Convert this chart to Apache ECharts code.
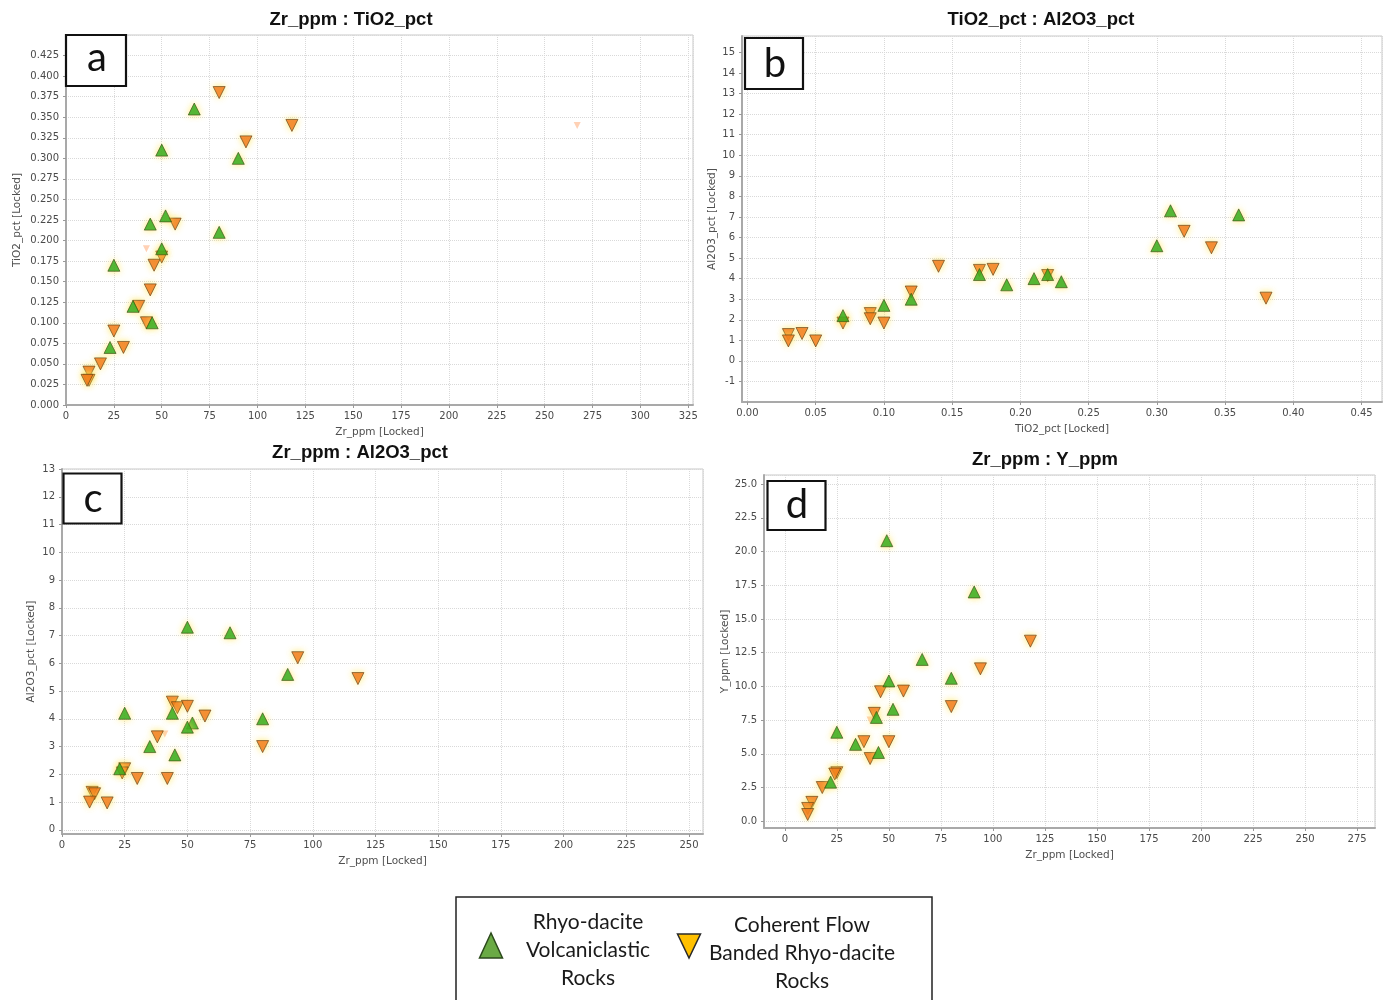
<!DOCTYPE html>
<html>
<head>
<meta charset="utf-8">
<script src="https://cdn.jsdelivr.net/npm/echarts@6/dist/echarts.min.js"></script>
<style>
  html, body { margin: 0; padding: 0; background: #ffffff; }
  #chart { width: 1390px; height: 1000px; }
</style>
</head>
<body>
<div id="chart"></div>
<script>
// ---------------- DATA ----------------
// Legend / series names
const seriesNames = ['Rhyo-dacite Volcaniclastic Rocks', 'Coherent Flow Banded Rhyo-dacite Rocks'];

// Panel a : Zr_ppm (x) vs TiO2_pct (y)
const zrTio2Volc = [[67,0.36],[50,0.31],[90,0.30],[52,0.23],[44,0.22],[80,0.21],[50,0.19],[25,0.17],[35,0.12],[45,0.10],[23,0.07]];
const zrTio2Coh  = [[80,0.38],[118,0.34],[94,0.32],[57,0.22],[50,0.18],[46,0.17],[44,0.14],[38,0.12],[42,0.10],[25,0.09],[30,0.07],[18,0.05],[12,0.04],[12,0.03],[11,0.03]];
const zrTio2Faint = [[42,0.19],[267,0.34]];

// Panel b : TiO2_pct (x) vs Al2O3_pct (y)
const tio2Al2o3Volc = [[0.07,2.2],[0.10,2.7],[0.12,3.0],[0.17,4.2],[0.19,3.7],[0.21,4.0],[0.22,4.2],[0.23,3.85],[0.30,5.6],[0.31,7.3],[0.36,7.1]];
const tio2Al2o3Coh  = [[0.03,1.28],[0.03,0.97],[0.04,1.33],[0.05,0.97],[0.07,1.84],[0.09,2.3],[0.09,2.05],[0.10,1.84],[0.12,3.35],[0.14,4.6],[0.17,4.4],[0.18,4.45],[0.22,4.15],[0.32,6.3],[0.34,5.5],[0.38,3.05]];

// Panel c : Zr_ppm (x) vs Al2O3_pct (y)
const zrAl2o3Volc = [[50,7.3],[67,7.1],[90,5.6],[25,4.2],[44,4.2],[80,4.0],[52,3.85],[50,3.7],[35,3.0],[45,2.7],[23,2.2]];
const zrAl2o3Coh  = [[94,6.2],[118,5.45],[44,4.6],[46,4.4],[50,4.45],[57,4.1],[38,3.35],[80,3.0],[25,2.2],[24,2.05],[30,1.85],[42,1.85],[12,1.35],[13,1.3],[11,1.0],[18,0.97]];
const zrAl2o3Faint = [[41,3.45]];

// Panel d : Zr_ppm (x) vs Y_ppm (y)
const zrYVolc = [[49,20.8],[91,17.0],[66,12.0],[80,10.6],[50,10.4],[52,8.3],[44,7.7],[25,6.6],[34,5.7],[45,5.1],[22,2.9]];
const zrYCoh  = [[118,13.35],[94,11.3],[80,8.5],[46,9.6],[57,9.65],[43,8.0],[38,5.9],[50,5.9],[41,4.65],[25,3.6],[24,3.5],[18,2.5],[13,1.4],[11,0.95],[11,0.5]];
const zrYFaint = [[41,7.5]];

// Titles, axis names, panel letters
const panelTitles = ['Zr_ppm : TiO2_pct', 'TiO2_pct : Al2O3_pct', 'Zr_ppm : Al2O3_pct', 'Zr_ppm : Y_ppm'];
const xNames = ['Zr_ppm [Locked]', 'TiO2_pct [Locked]', 'Zr_ppm [Locked]', 'Zr_ppm [Locked]'];
const yNames = ['TiO2_pct [Locked]', 'Al2O3_pct [Locked]', 'Al2O3_pct [Locked]', 'Y_ppm [Locked]'];
const panelLetters = ['a', 'b', 'c', 'd'];
const legendLines = [['Rhyo-dacite', 'Volcaniclastic', 'Rocks'], ['Coherent Flow', 'Banded Rhyo-dacite', 'Rocks']];

// ---------------- STYLE / LAYOUT ----------------
const TICK_FONT = 'DejaVu Sans';
const grids = [
  { left: 66,  top: 35,  width: 627, height: 370 },
  { left: 742, top: 36,  width: 640, height: 366 },
  { left: 62,  top: 469, width: 641, height: 365 },
  { left: 764, top: 475, width: 611, height: 353 }
];
const xRanges = [
  { min: 0, max: 327.5, step: 25, dec: 0, hideMin: false },
  { min: -0.004, max: 0.465, step: 0.05, dec: 2, hideMin: true },
  { min: 0, max: 255.6, step: 25, dec: 0, hideMin: false },
  { min: -10, max: 283.6, step: 25, dec: 0, hideMin: true }
];
const yRanges = [
  { min: 0, max: 0.45, step: 0.025, dec: 3, hideMin: false, hideMax: true },
  { min: -2, max: 15.8, step: 1, dec: 0, hideMin: true, hideMax: true },
  { min: -0.15, max: 13, step: 1, dec: 0, hideMin: true, hideMax: false },
  { min: -0.5, max: 25.67, step: 2.5, dec: 1, hideMin: true, hideMax: true }
];
const xNameGaps = [22, 22, 22, 22];
const yNameGaps = [43, 24, 25, 33];

function axisCommon() {
  return {
    type: 'value',
    axisLine: { show: true, onZero: false, lineStyle: { color: '#a9a9a9', width: 2 } },
    axisTick: { show: true, length: 3, lineStyle: { color: '#999' } },
    splitLine: { show: true, lineStyle: { color: '#d9d9d9', type: 'dotted', width: 1 } },
    nameLocation: 'middle',
    nameTextStyle: { fontFamily: TICK_FONT, fontSize: 10.5, color: '#505050' }
  };
}

const xAxes = xRanges.map((r, i) => Object.assign(axisCommon(), {
  gridIndex: i, min: r.min, max: r.max, minInterval: r.step, maxInterval: r.step,
  name: xNames[i], nameGap: xNameGaps[i],
  axisLabel: { fontFamily: TICK_FONT, fontSize: 10, color: '#4a4a4a', margin: 6,
    showMinLabel: !r.hideMin, showMaxLabel: false,
    formatter: v => Number(v).toFixed(r.dec) }
}));
const yAxes = yRanges.map((r, i) => Object.assign(axisCommon(), {
  gridIndex: i, min: r.min, max: r.max, minInterval: r.step, maxInterval: r.step,
  name: yNames[i], nameGap: yNameGaps[i], nameRotate: 90,
  axisLabel: { fontFamily: TICK_FONT, fontSize: 10, color: '#4a4a4a', margin: 7,
    showMinLabel: !r.hideMin, showMaxLabel: !r.hideMax,
    formatter: v => Number(v).toFixed(r.dec) }
}));

const volcStyle = { color: '#12a012', borderColor: '#3f4a10', borderWidth: 0.8,
  shadowBlur: 6, shadowColor: 'rgba(255,230,80,0.95)' };
const cohStyle = { color: '#f06a12', borderColor: '#5a3c10', borderWidth: 0.8,
  shadowBlur: 6, shadowColor: 'rgba(255,230,80,0.95)' };
const faintStyle = { color: '#ffc6a2' };

const panelData = [
  [zrTio2Volc, zrTio2Coh, zrTio2Faint],
  [tio2Al2o3Volc, tio2Al2o3Coh, []],
  [zrAl2o3Volc, zrAl2o3Coh, zrAl2o3Faint],
  [zrYVolc, zrYCoh, zrYFaint]
];

const series = [];
panelData.forEach((d, i) => {
  if (d[2].length) series.push({ type: 'scatter', name: 'Filtered samples', xAxisIndex: i, yAxisIndex: i,
    data: d[2], symbol: 'triangle', symbolRotate: 180, symbolSize: 7, itemStyle: faintStyle, silent: true });
  series.push({ type: 'scatter', name: seriesNames[1], xAxisIndex: i, yAxisIndex: i,
    data: d[1], symbol: 'triangle', symbolRotate: 180, symbolSize: 12, itemStyle: cohStyle });
  series.push({ type: 'scatter', name: seriesNames[0], xAxisIndex: i, yAxisIndex: i,
    data: d[0], symbol: 'triangle', symbolSize: 12, itemStyle: volcStyle });
});

const titlePos = [[351, 20], [1041, 20], [360, 453], [1045, 460]];
const titles = panelTitles.map((t, i) => ({
  text: t, left: titlePos[i][0], top: titlePos[i][1], padding: 0,
  textAlign: 'center', textVerticalAlign: 'middle',
  textStyle: { fontFamily: 'Liberation Sans', fontWeight: 'bold', fontSize: 18.5, color: '#111' }
}));

// panel letter boxes
const letterBoxes = [
  { x: 66, y: 35, w: 60, h: 51, tx: 97, ty: 58 },
  { x: 745, y: 38, w: 58, h: 51, tx: 775, ty: 64 },
  { x: 63.5, y: 473.5, w: 58, h: 50, tx: 93, ty: 499 },
  { x: 767.5, y: 481, w: 58, h: 49, tx: 797, ty: 505 }
];
const graphics = [];
letterBoxes.forEach((b, i) => {
  graphics.push({ type: 'rect', shape: { x: b.x, y: b.y, width: b.w, height: b.h },
    style: { fill: '#fff', stroke: '#111', lineWidth: 2.2 }, z: 100 });
  graphics.push({ type: 'text', x: b.tx, y: b.ty, z: 101,
    style: { text: panelLetters[i], font: '40px Lato', fill: '#111', align: 'center', verticalAlign: 'middle' } });
});
// legend box
graphics.push({ type: 'rect', shape: { x: 456, y: 897, width: 476, height: 115 },
  style: { fill: '#fff', stroke: '#222', lineWidth: 1.5 }, z: 100 });
graphics.push({ type: 'polygon', shape: { points: [[491, 933], [479.5, 958], [502.5, 958]] },
  style: { fill: '#6aaa45', stroke: '#2c4a1c', lineWidth: 1.5 }, z: 101 });
graphics.push({ type: 'polygon', shape: { points: [[677.5, 934], [700.5, 934], [689, 958]] },
  style: { fill: '#ffc000', stroke: '#2a2a2a', lineWidth: 1.5 }, z: 101 });
graphics.push({ type: 'text', x: 588, y: 950, z: 101,
  style: { text: legendLines[0].join('\n'), font: '21px Lato', fill: '#1a1a1a', align: 'center', verticalAlign: 'middle', lineHeight: 28 } });
graphics.push({ type: 'text', x: 802, y: 953, z: 101,
  style: { text: legendLines[1].join('\n'), font: '21px Lato', fill: '#1a1a1a', align: 'center', verticalAlign: 'middle', lineHeight: 28 } });

const chart = echarts.init(document.getElementById('chart'), null, { renderer: 'canvas' });
chart.setOption({
  backgroundColor: '#ffffff',
  animation: false,
  title: titles,
  grid: grids.map(g => Object.assign({ show: true, borderColor: '#c9c9c9', borderWidth: 1, backgroundColor: 'transparent' }, g)),
  xAxis: xAxes,
  yAxis: yAxes,
  series: series,
  graphic: graphics
});
</script>
</body>
</html>
